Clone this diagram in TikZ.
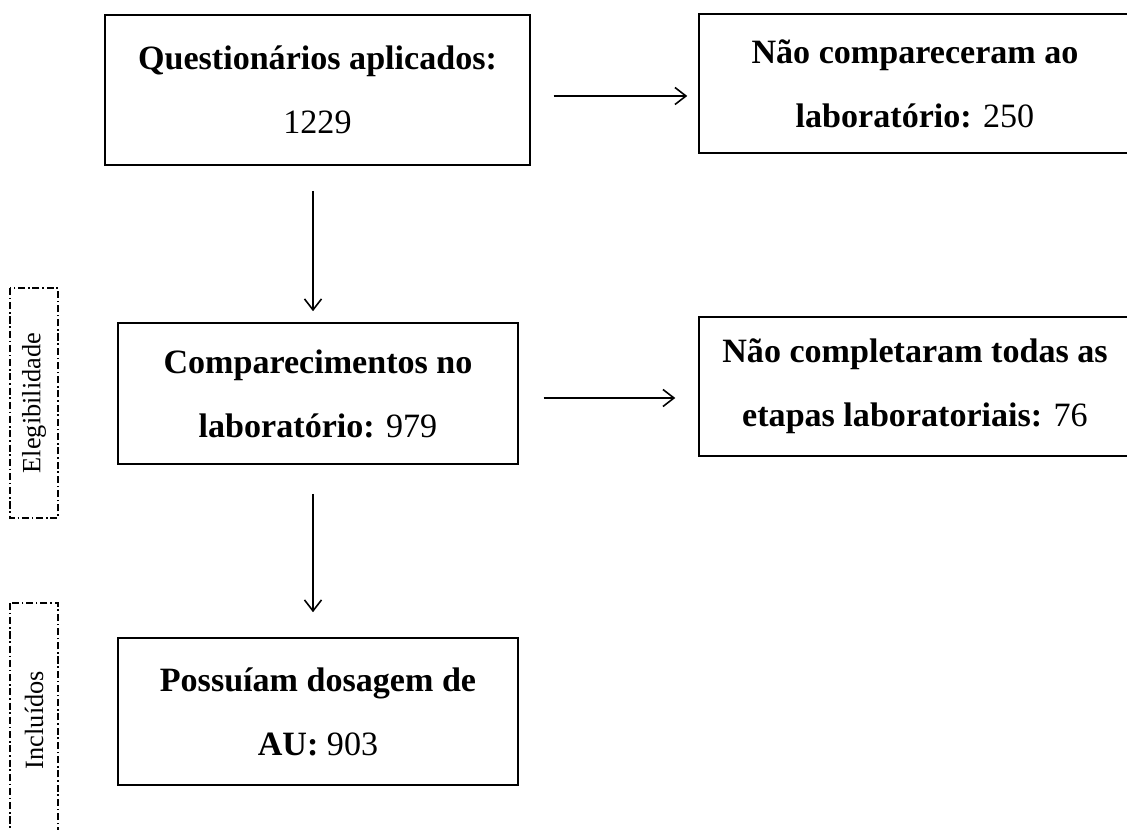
\documentclass[tikz,border=0pt]{standalone}
\usepackage{fontspec}
\setmainfont{Liberation Serif}
\usetikzlibrary{arrows.meta}
\begin{document}
\begin{tikzpicture}[x=0.02cm,y=-0.02cm,line width=0.8pt,
	>={Straight Barb[length=2.2mm,width=3.4mm,line width=0.9pt]},
	hop/.style={draw,line width=0.9pt,inner sep=0pt,align=center,font=\fontsize{19.4}{36.5}\selectfont},
	nhom/.style={draw,dash pattern=on 4pt off 1.6pt on 0.9pt off 1.6pt,line width=0.8pt,rotate=90,inner sep=0pt,font=\fontsize{15}{18}\selectfont}]
	\useasboundingbox (0,0) rectangle (1127,830);
	%Caixas principais:
	\node[hop,minimum width=8.5cm,minimum height=3cm] (qa) at (317.5,90) {\textbf{Questionários aplicados:}\\1229};
	\node[hop,minimum width=8.64cm,minimum height=2.78cm] (nc) at (915,83.5) {\textbf{Não compareceram ao}\\\textbf{laboratório:} 250};
	\node[hop,minimum width=8cm,minimum height=2.82cm] (cl) at (318,393.5) {\textbf{Comparecimentos no}\\\textbf{laboratório:} 979};
	\node[hop,minimum width=8.64cm,minimum height=2.78cm] (nt) at (915,386.5) {\textbf{Não completaram todas as}\\\textbf{etapas laboratoriais:} 76};
	\node[hop,minimum width=8cm,minimum height=2.94cm] (pd) at (318,711.5) {\textbf{Possuíam dosagem de}\\\textbf{AU:} 903};
	%Grupos:
	\node[nhom,minimum width=4.6cm,minimum height=0.96cm] (el) at (34,403) {Elegibilidade};
	\node[nhom,minimum width=4.68cm,minimum height=0.96cm] (in) at (34,720) {Incluídos};
	%Setas:
	\draw[->,shorten <=0.46cm,shorten >=0.22cm] (qa.east |- 0,96) -- (nc.west |- 0,96);
	\draw[->,shorten <=0.5cm,shorten >=0.46cm] (cl.east |- 0,398) -- (nt.west |- 0,398);
	\draw[->,shorten <=0.5cm,shorten >=0.22cm] (qa.south -| 313,0) -- (cl.north -| 313,0);
	\draw[->,shorten <=0.58cm,shorten >=0.5cm] (cl.south -| 313,0) -- (pd.north -| 313,0);
\end{tikzpicture}
\end{document}
